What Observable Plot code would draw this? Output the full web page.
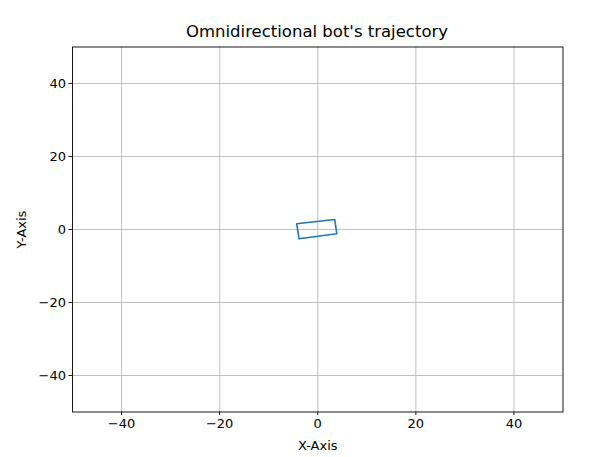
<!DOCTYPE html>
<html>
<head>
<meta charset="utf-8">
<script src="https://cdn.jsdelivr.net/npm/d3@7"></script>
<script src="https://cdn.jsdelivr.net/npm/@observablehq/plot@0.6"></script>
<style>
  html, body { margin: 0; padding: 0; background: #fff; }
  body { width: 600px; height: 457px; overflow: hidden; font-family: "DejaVu Sans", sans-serif; }
  #title { height: 44px; box-sizing: border-box; padding-top: 21px; line-height: 22px; font-size: 16.5px; text-align: center; padding-left: 34px; color: #000; white-space: nowrap; }
</style>
</head>
<body>
<div id="title">Omnidirectional bot's trajectory</div>
<div id="chart"></div>
<script>
// Trajectory of the bot (closed rotated rectangle)
const pathX = [-4.29, 3.47, 3.88, -3.82, -4.29];
const pathY = [1.59, 2.74, -1.18, -2.55, 1.59];
// Tick values
const xTicks = [-40, -20, 0, 20, 40];
const yTicks = [-40, -20, 0, 20, 40];
const xDomain = [-50, 50];
const yDomain = [-50, 50];

const traj = pathX.map((x, i) => ({x, y: pathY[i]}));

const plot = Plot.plot({
  width: 600,
  height: 413,
  marginTop: 2.5,
  marginBottom: 45.5,
  marginLeft: 72,
  marginRight: 37.5,
  style: { fontFamily: "DejaVu Sans, sans-serif", fontSize: "13px", color: "#000", background: "#fff" },
  x: { domain: xDomain },
  y: { domain: yDomain },
  marks: [
    Plot.ruleX(xTicks, { stroke: "#b0b0b0", strokeWidth: 0.8, strokeOpacity: 1 }),
    Plot.ruleY(yTicks, { stroke: "#b0b0b0", strokeWidth: 0.8, strokeOpacity: 1 }),
    Plot.line(traj, { x: "x", y: "y", stroke: "#1f77b4", strokeWidth: 1.6 }),
    Plot.frame({ stroke: "#000", strokeWidth: 0.9 }),
    Plot.axisX({ ticks: xTicks, tickSize: 3.5, tickPadding: 3, strokeWidth: 0.9, label: "X-Axis", labelAnchor: "center", labelArrow: "none", labelOffset: 38, fontSize: 13 }),
    Plot.axisY({ ticks: yTicks, tickSize: 3.5, tickPadding: 3, strokeWidth: 0.9, label: "Y-Axis", labelAnchor: "center", labelArrow: "none", labelOffset: 56, fontSize: 13 })
  ]
});
document.getElementById("chart").appendChild(plot);
</script>
</body>
</html>
